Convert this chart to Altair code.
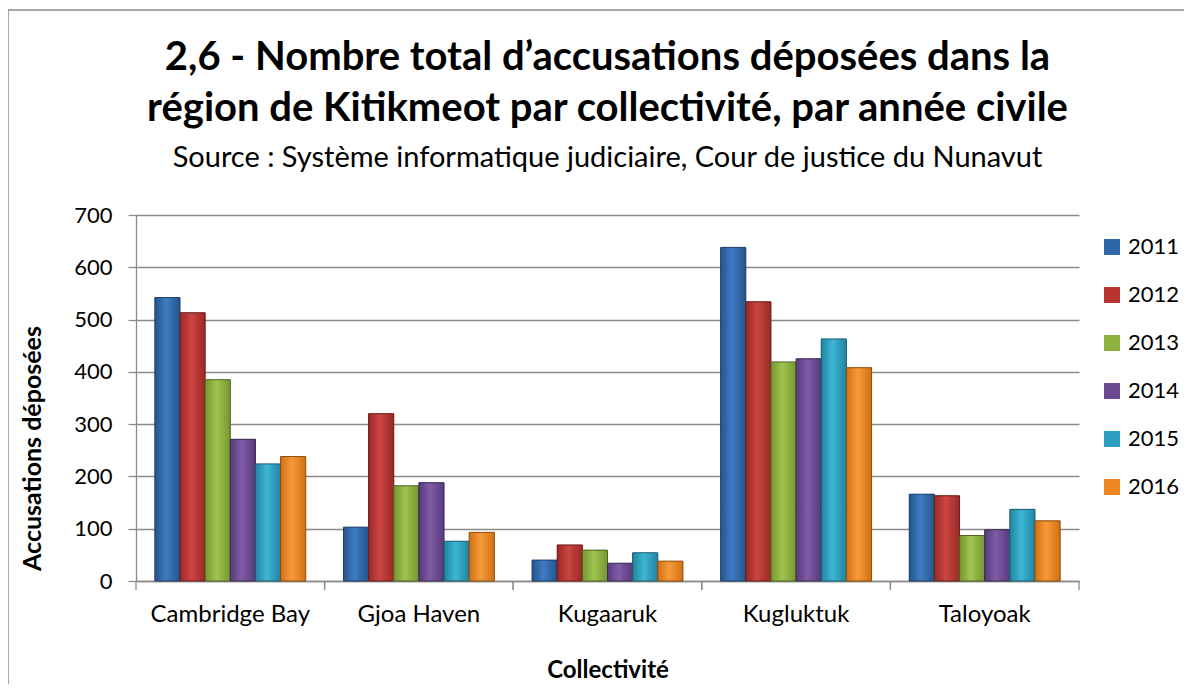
import altair as alt
import pandas as pd

communities = ["Cambridge Bay", "Gjoa Haven", "Kugaaruk", "Kugluktuk", "Taloyoak"]
years = ["2011", "2012", "2013", "2014", "2015", "2016"]
v2011 = [542, 103, 40, 638, 166]
v2012 = [513, 320, 69, 534, 163]
v2013 = [385, 182, 59, 419, 87]
v2014 = [271, 188, 34, 425, 98]
v2015 = [224, 76, 54, 463, 137]
v2016 = [238, 93, 38, 408, 115]
y_ticks = [0, 100, 200, 300, 400, 500, 600, 700]

colors = ["#2F66A8", "#B83330", "#8DB23D", "#6B4A92", "#2B9FC0", "#F0861F"]
light = ["#3E7CC4", "#CC4642", "#A0C451", "#7F5CA8", "#3DB6D6", "#F79A3A"]
dark = ["#25548C", "#9A2826", "#76962F", "#573B7B", "#21849F", "#D27012"]
edges = ["#1F3F66", "#6B1E1C", "#4F6420", "#3E2A55", "#1A5F72", "#8F4E10"]

title_lines = ["2,6 - Nombre total d\u2019accusations déposées dans la",
               "région de Kitikmeot par collectivité, par année civile"]
subtitle = "Source : Système informatique judiciaire, Cour de justice du Nunavut"

rows = []
for yr, vals in zip(years, [v2011, v2012, v2013, v2014, v2015, v2016]):
    for c, v in zip(communities, vals):
        rows.append({"Collectivité": c, "Année": yr, "Accusations": v})
df = pd.DataFrame(rows)

W, H = 943, 366
FONT = "Lato"
GRAY = "#8A8A8A"
STEP = W / len(communities)

xscale = alt.Scale(domain=communities, paddingInner=0.2, paddingOuter=0.1)
x_axis = alt.Axis(labelFont=FONT, labelFontSize=24, labelColor="black",
                  labelPadding=21, ticks=False, domainColor=GRAY, domainWidth=1.3,
                  labelAngle=0, title="Collectivité", titleFont=FONT,
                  titleFontSize=24, titleFontWeight="bold", titleColor="black",
                  titleY=77, titleBaseline="top")
yscale = alt.Scale(domain=[0, 700], nice=False)
y_axis = alt.Axis(values=y_ticks, labelFont=FONT, labelFontSize=22,
                  labelColor="black", labelPadding=16, tickSize=8,
                  tickColor=GRAY, tickWidth=1.3, domainColor=GRAY, domainWidth=1.3,
                  grid=True, gridColor=GRAY, gridWidth=1.3,
                  title="Accusations déposées", titleFont=FONT, titleFontSize=25,
                  titleFontWeight="bold", titleColor="black",
                  titleX=-104, titleY=233, titleAngle=270,
                  titleAlign="center", titleBaseline="middle")
x_enc = alt.X("Collectivité:N", sort=communities, scale=xscale, axis=x_axis)
y_enc = alt.Y("Accusations:Q", scale=yscale, axis=y_axis)
xoff = alt.XOffset("Année:N", sort=years,
                   scale=alt.Scale(domain=years, paddingInner=0, paddingOuter=0))

base = alt.Chart(df).mark_bar(strokeWidth=1).encode(
    x=x_enc, y=y_enc, xOffset=xoff,
    color=alt.Color("Année:N", scale=alt.Scale(domain=years, range=colors),
                    legend=alt.Legend(title="", orient="none", legendX=965, legendY=21,
                                      symbolType="square", symbolSize=256,
                                      symbolStrokeWidth=0, labelFont=FONT,
                                      labelFontSize=22, labelColor="black",
                                      labelOffset=5, rowPadding=26)),
)

grad_layers = []
for i, yr in enumerate(years):
    g = alt.Gradient(gradient="linear", x1=0, x2=1, y1=0, y2=0,
                     stops=[alt.GradientStop(offset=0, color=dark[i]),
                            alt.GradientStop(offset=0.45, color=light[i]),
                            alt.GradientStop(offset=1, color=dark[i])])
    grad_layers.append(
        alt.Chart(df).transform_filter(alt.datum["Année"] == yr)
        .mark_bar(color=g, stroke=edges[i], strokeWidth=1)
        .encode(x=x_enc, y=y_enc, xOffset=xoff)
    )

tick_df = pd.DataFrame({"Collectivité": communities})
ticks0 = alt.Chart(tick_df).mark_rule(color=GRAY, strokeWidth=1.3, xOffset=-0.1 * STEP).encode(
    x=alt.X("Collectivité:N", sort=communities, bandPosition=0, scale=xscale, axis=x_axis),
    y=alt.value(H), y2=alt.value(H + 9))
ticks1 = alt.Chart(tick_df).mark_rule(color=GRAY, strokeWidth=1.3, xOffset=0.1 * STEP).encode(
    x=alt.X("Collectivité:N", sort=communities, bandPosition=1, scale=xscale, axis=x_axis),
    y=alt.value(H), y2=alt.value(H + 9))

border = alt.Chart(alt.Data(values=[{"k": 1}])).mark_rect(
    filled=False, stroke="#8C8C8C", strokeWidth=1.5).encode(
    x=alt.value(-128), x2=alt.value(1100), y=alt.value(-205), y2=alt.value(520))

chart = alt.layer(base, *grad_layers, ticks0, ticks1, border).properties(
    width=W, height=H,
    autosize=alt.AutoSizeParams(type="none"),
    padding={"left": 128, "top": 207, "right": 105, "bottom": 103},
    title=alt.TitleParams(text=title_lines, subtitle=subtitle, anchor="middle",
                          frame="group",
                          font=FONT, fontSize=40, fontWeight="bold", color="black",
                          lineHeight=51, subtitleFont=FONT, subtitleFontSize=29,
                          subtitleColor="black", subtitlePadding=15, offset=-164),
).configure_view(strokeWidth=0)

chart.save("out.html", embed_options={"renderer": "svg", "actions": False})
